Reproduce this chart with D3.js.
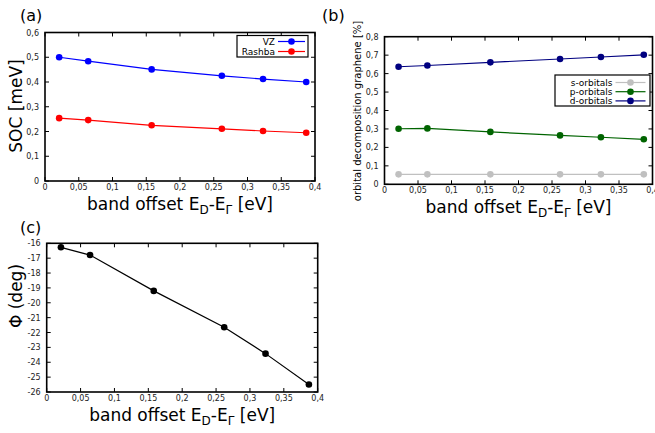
<!DOCTYPE html>
<html>
<head>
<meta charset="utf-8">
<script src="https://cdn.jsdelivr.net/npm/d3@7"></script>
<style>
  body { margin: 0; background: #fff; }
  svg { display: block; font-family: "DejaVu Sans", sans-serif; }
</style>
</head>
<body>
<div id="chart"></div>
<script>
// band offset values (same for every panel)
const bandOffset = [0.021, 0.064, 0.158, 0.262, 0.323, 0.387];

// (a) spin-orbit couplings
const vz = [0.500, 0.484, 0.451, 0.425, 0.412, 0.400];
const rashba = [0.254, 0.246, 0.225, 0.211, 0.202, 0.195];

// (b) orbital decomposition
const sOrb = [0.054, 0.054, 0.054, 0.054, 0.054, 0.054];
const pOrb = [0.301, 0.303, 0.284, 0.265, 0.255, 0.244];
const dOrb = [0.637, 0.644, 0.661, 0.679, 0.690, 0.702];

// (c) angle
const phi = [-16.27, -16.79, -19.2, -21.65, -23.42, -25.5];

const xTicks = [0, 0.05, 0.1, 0.15, 0.2, 0.25, 0.3, 0.35, 0.4];

const W = 655, H = 433;
const svg = d3.select('#chart').append('svg')
	.attr('width', W)
	.attr('height', H);

const fmt = d => String(+d.toFixed(2)).replace('.', ',');

function xLabel(g, x, y) {
	const t = g.append('text')
		.attr('x', x).attr('y', y)
		.attr('text-anchor', 'middle')
		.attr('font-size', 17);
	t.append('tspan').text('band offset E');
	t.append('tspan').attr('font-size', 12).attr('dy', 4).text('D');
	t.append('tspan').attr('dy', -4).text('-E');
	t.append('tspan').attr('font-size', 12).attr('dy', 4).text('Γ');
	t.append('tspan').attr('dy', -4).text(' [eV]');
}

function drawPanel(opt) {
	const g = svg.append('g');
	const x = d3.scaleLinear().domain([0, 0.4]).range([opt.left, opt.right]);
	const y = d3.scaleLinear().domain(opt.yDomain).range([opt.bottom, opt.top]);

	// ticks (inner, mirrored)
	const tl = 4;
	xTicks.forEach(t => {
		g.append('line').attr('x1', x(t)).attr('x2', x(t))
			.attr('y1', opt.bottom).attr('y2', opt.bottom - tl)
			.attr('stroke', '#000');
		g.append('line').attr('x1', x(t)).attr('x2', x(t))
			.attr('y1', opt.top).attr('y2', opt.top + tl)
			.attr('stroke', '#000');
		g.append('text')
			.attr('x', x(t)).attr('y', opt.bottom + 9)
			.attr('text-anchor', 'middle')
			.attr('font-size', 8)
			.attr('fill', '#222')
			.text(fmt(t));
	});
	opt.yTicks.forEach(t => {
		g.append('line').attr('x1', opt.left).attr('x2', opt.left + tl)
			.attr('y1', y(t)).attr('y2', y(t))
			.attr('stroke', '#000');
		g.append('line').attr('x1', opt.right).attr('x2', opt.right - tl)
			.attr('y1', y(t)).attr('y2', y(t))
			.attr('stroke', '#000');
		g.append('text')
			.attr('x', opt.left - 6).attr('y', y(t) + 3)
			.attr('text-anchor', 'end')
			.attr('font-size', 8)
			.attr('fill', '#222')
			.text(opt.yFmt(t));
	});

	// series
	const line = d3.line().x((d, i) => x(bandOffset[i])).y(d => y(d));
	opt.series.forEach(s => {
		g.append('path')
			.attr('d', line(s.values))
			.attr('fill', 'none')
			.attr('stroke', s.color)
			.attr('stroke-width', 1.2);
		g.selectAll(null)
			.data(s.values)
			.enter()
			.append('circle')
				.attr('cx', (d, i) => x(bandOffset[i]))
				.attr('cy', d => y(d))
				.attr('r', 3.3)
				.attr('fill', s.color);
	});

	// frame
	g.append('rect')
		.attr('x', opt.left).attr('y', opt.top)
		.attr('width', opt.right - opt.left)
		.attr('height', opt.bottom - opt.top)
		.attr('fill', 'none')
		.attr('stroke', '#000')
		.attr('stroke-width', 1.6);

	// legend
	if (opt.legend) {
		const L = opt.legend;
		g.append('rect')
			.attr('x', L.x).attr('y', L.y)
			.attr('width', L.w).attr('height', L.h)
			.attr('fill', '#fff')
			.attr('stroke', '#000')
			.attr('stroke-width', 1.2);
		opt.series.forEach((s, i) => {
			const yy = L.y + L.first + i * L.step;
			g.append('text')
				.attr('x', L.textX).attr('y', yy + 3)
				.attr('text-anchor', 'end')
				.attr('font-size', 9)
				.text(s.name);
			g.append('line')
				.attr('x1', L.textX + 3).attr('x2', L.textX + 3 + L.len)
				.attr('y1', yy).attr('y2', yy)
				.attr('stroke', s.color)
				.attr('stroke-width', 1.2);
			g.append('circle')
				.attr('cx', L.textX + 3 + L.len / 2).attr('cy', yy)
				.attr('r', 3.3)
				.attr('fill', s.color);
		});
	}

	// labels
	g.append('text')
		.attr('x', opt.tag[0]).attr('y', opt.tag[1])
		.attr('font-size', 16)
		.text(opt.tagText);
	g.append('text')
		.attr('transform', `translate(${opt.yLab[0]},${opt.yLab[1]}) rotate(-90)`)
		.attr('text-anchor', 'middle')
		.attr('font-size', opt.yLabSize)
		.text(opt.yLabel);
	xLabel(g, (opt.left + opt.right) / 2, opt.bottom + 29);
}

drawPanel({
	left: 45, right: 315, top: 32.5, bottom: 181,
	yDomain: [0, 0.6],
	yTicks: [0, 0.1, 0.2, 0.3, 0.4, 0.5, 0.6],
	yFmt: fmt,
	series: [
		{name: 'VZ', values: vz, color: '#0000ff'},
		{name: 'Rashba', values: rashba, color: '#ff0000'}
	],
	legend: {x: 237, y: 35.5, w: 71, h: 21.5, first: 6, step: 10, textX: 275, len: 27},
	tag: [20, 21], tagText: '(a)',
	yLab: [22, 106], yLabSize: 17, yLabel: 'SOC [meV]'
});

drawPanel({
	left: 384.5, right: 652.5, top: 36.7, bottom: 184.3,
	yDomain: [0, 0.8],
	yTicks: [0, 0.1, 0.2, 0.3, 0.4, 0.5, 0.6, 0.7, 0.8],
	yFmt: fmt,
	series: [
		{name: 's-orbitals', values: sOrb, color: '#c0c0c0'},
		{name: 'p-orbitals', values: pOrb, color: '#006400'},
		{name: 'd-orbitals', values: dOrb, color: '#000080'}
	],
	legend: {x: 555, y: 75, w: 95, h: 31, first: 7.5, step: 9.2, textX: 612.5, len: 30},
	tag: [322, 21], tagText: '(b)',
	yLab: [361, 111], yLabSize: 10, yLabel: 'orbital decomposition graphene [%]'
});

drawPanel({
	left: 46.7, right: 317.7, top: 243.3, bottom: 392,
	yDomain: [-26, -16],
	yTicks: d3.range(-26, -15, 1),
	yFmt: d => String(d),
	series: [
		{name: 'phi', values: phi, color: '#000'}
	],
	tag: [20, 233], tagText: '(c)',
	yLab: [22, 296], yLabSize: 17, yLabel: 'Φ (deg)'
});
</script>
</body>
</html>
